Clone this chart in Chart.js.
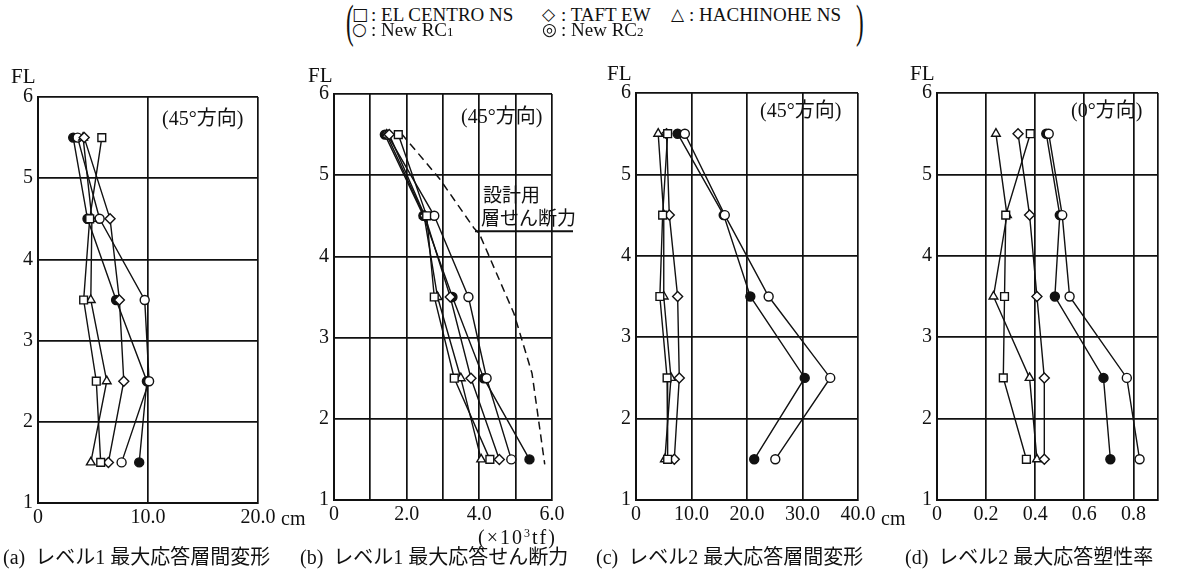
<!DOCTYPE html>
<html>
<head>
<meta charset="utf-8">
<script src="https://cdn.jsdelivr.net/npm/chart.js@4.4.0/dist/chart.umd.min.js"></script>
<style>
  html, body { margin: 0; padding: 0; background: #fff; }
  #stage { position: relative; width: 1194px; height: 573px; overflow: hidden; background: #fff; }
  canvas { position: absolute; }
  .t { position: absolute; white-space: nowrap; color: #111; line-height: 1;
       font-family: "Liberation Serif", "Noto Sans CJK JP", serif; transform: translateY(-50%); }
  .cap { font-size: 20px; }
  .unit { font-size: 20px; }
  .fl { font-size: 21px; }
  .dir { font-size: 20px; }
  .note { font-size: 19px; }
  .leg { font-size: 19px; }
  .sym { font-family: "DejaVu Sans", sans-serif; font-size: 17px; }
  .paren { font-size: 46px; transform: translateY(-50%) scaleX(0.5); transform-origin: left center; }
</style>
</head>
<body>
<div id="stage">
  <canvas id="pa"></canvas>
  <canvas id="pb"></canvas>
  <canvas id="pc"></canvas>
  <canvas id="pd"></canvas>

  <!-- legend -->
  <div class="t paren" style="left:346px; top:22px;">(</div>
  <div class="t sym" style="left:352px; top:14px;">□</div>
  <div class="t leg" style="left:371px; top:14px;">: EL CENTRO NS</div>
  <div class="t sym" style="left:542px; top:14px;">◇</div>
  <div class="t leg" style="left:561px; top:14px;">: TAFT EW</div>
  <div class="t sym" style="left:671px; top:14px;">△</div>
  <div class="t leg" style="left:689px; top:14px;">: HACHINOHE NS</div>
  <div class="t sym" style="left:352px; top:29px;">○</div>
  <div class="t leg" style="left:371px; top:29px;">: New RC<span style="font-size:13px">1</span></div>
  <div class="t sym" style="left:542px; top:29px;">◎</div>
  <div class="t leg" style="left:561px; top:29px;">: New RC<span style="font-size:13px">2</span></div>
  <div class="t paren" style="left:856px; top:22px;">)</div>

  <!-- axis titles -->
  <div class="t fl" style="left:11px; top:76px;">FL</div>
  <div class="t fl" style="left:308px; top:75px;">FL</div>
  <div class="t fl" style="left:607px; top:73px;">FL</div>
  <div class="t fl" style="left:910px; top:73px;">FL</div>

  <!-- direction notes -->
  <div class="t dir" style="left:162px; top:118px;">(45°方向)</div>
  <div class="t dir" style="left:461px; top:116px;">(45°方向)</div>
  <div class="t dir" style="left:760px; top:110px;">(45°方向)</div>
  <div class="t dir" style="left:1071px; top:110px;">(0°方向)</div>

  <!-- units -->
  <div class="t unit" style="left:281px; top:518px;">cm</div>
  <div class="t unit" style="left:881px; top:518px;">cm</div>
  <div class="t unit" style="left:478px; top:537px; letter-spacing:2px;">(×10<sup style="font-size:12px">3</sup>tf)</div>

  <!-- design shear note -->
  <div class="t note" style="left:483px; top:195px;">設計用</div>
  <div class="t note" style="left:481px; top:218px;">層せん断力</div>

  <!-- captions -->
  <div class="t cap" style="left:3px; top:557px;">(a)&nbsp; レベル1 最大応答層間変形</div>
  <div class="t cap" style="left:300px; top:557px;">(b)&nbsp; レベル1 最大応答せん断力</div>
  <div class="t cap" style="left:596px; top:557px;">(c)&nbsp; レベル2 最大応答層間変形</div>
  <div class="t cap" style="left:905px; top:557px;">(d)&nbsp; レベル2 最大応答塑性率</div>
</div>

<script>
// Floor levels where responses are plotted
const floors = [5.5, 4.5, 3.5, 2.5, 1.5];
const floorTicks = [1, 2, 3, 4, 5, 6];

// (a) Level 1 max story drift [cm]
const l1DriftElCentro  = [5.8, 4.7, 4.15, 5.3, 5.7];
const l1DriftTaft      = [4.2, 6.55, 7.4, 7.8, 6.4];
const l1DriftHachinohe = [4.1, 4.9, 4.8, 6.25, 4.8];
const l1DriftRc1       = [3.6, 5.6, 9.7, 10.1, 7.6];
const l1DriftRc2       = [3.2, 4.5, 7.1, 9.9, 9.2];

// (b) Level 1 max story shear [x10^3 tf]
const l1ShearElCentro  = [1.77, 2.55, 2.76, 3.31, 4.29];
const l1ShearTaft      = [1.52, 2.5, 3.2, 3.77, 4.55];
const l1ShearHachinohe = [1.45, 2.48, 2.85, 3.49, 4.05];
const l1ShearRc1       = [1.47, 2.76, 3.7, 4.2, 4.88];
const l1ShearRc2       = [1.4, 2.46, 3.26, 4.12, 5.38];
// design story shear (dashed)
const designShearFloor = [5.51, 4.96, 4.35, 4.28, 3.30, 2.56, 1.44];
const designShearValue = [1.86, 2.9, 3.85, 4.0, 4.95, 5.45, 5.8];

// (c) Level 2 max story drift [cm]
const l2DriftElCentro  = [5.7, 4.8, 4.3, 5.6, 5.7];
const l2DriftTaft      = [5.5, 6.0, 7.5, 7.8, 6.9];
const l2DriftHachinohe = [4.0, 5.0, 5.0, 6.3, 5.2];
const l2DriftRc1       = [8.8, 16.0, 23.9, 35.0, 25.1];
const l2DriftRc2       = [7.5, 15.8, 20.6, 30.4, 21.3];

// (d) Level 2 max ductility factor
const l2DuctElCentro  = [0.38, 0.28, 0.275, 0.27, 0.364];
const l2DuctTaft      = [0.33, 0.377, 0.407, 0.437, 0.437];
const l2DuctHachinohe = [0.24, 0.285, 0.23, 0.377, 0.407];
const l2DuctRc1       = [0.455, 0.51, 0.54, 0.773, 0.825];
const l2DuctRc2       = [0.445, 0.50, 0.48, 0.678, 0.706];

// x-axis ticks and their labels
const xTicksA = [0, 10, 20];           const xLabelsA = ['0', '10.0', '20.0'];
const xTicksB = [0, 1, 2, 3, 4, 5, 6]; const xLabelsB = ['0', '', '2.0', '', '4.0', '', '6.0'];
const xTicksC = [0, 10, 20, 30, 40];   const xLabelsC = ['0', '10.0', '20.0', '30.0', '40.0'];
const xTicksD = [0, 0.2, 0.4, 0.6, 0.8, 0.9]; const xLabelsD = ['0', '0.2', '0.4', '0.6', '0.8', ''];

const INK = '#111';
const markerStyles = [
  { pointStyle: 'rect',     pointRadius: 5.5, pointBackgroundColor: '#fff' },
  { pointStyle: 'rectRot',  pointRadius: 5,   pointBackgroundColor: '#fff' },
  { pointStyle: 'triangle', pointRadius: 5,   pointBackgroundColor: '#fff' },
  { pointStyle: 'circle',   pointRadius: 4.5, pointBackgroundColor: '#fff' },
  { pointStyle: 'circle',   pointRadius: 4.5, pointBackgroundColor: INK }
];
const seriesNames = ['EL CENTRO NS', 'TAFT EW', 'HACHINOHE NS', 'New RC1', 'New RC2'];

function toPoints(xs, ys) { return xs.map((v, i) => ({ x: v, y: ys[i] })); }

function responseSets(list) {
  return list.map((vals, k) => Object.assign({
    label: seriesNames[k],
    data: toPoints(vals, floors),
    borderColor: INK,
    borderWidth: 1.4,
    pointBorderColor: INK,
    pointBorderWidth: 1.4,
    showLine: true,
    tension: 0
  }, markerStyles[k]));
}

const PAD = 40;
const tickFont = { family: '"Liberation Serif", serif', size: 20 };

function makePanel(id, box, xMax, xTicks, xLabels, datasets, plugins) {
  const cv = document.getElementById(id);
  const w = (box.R - box.L) + PAD + 60;
  const h = (box.B - box.T) + PAD + 45;
  cv.width = w; cv.height = h;
  cv.style.left = (box.L - PAD) + 'px';
  cv.style.top = (box.T - PAD) + 'px';
  cv.style.width = w + 'px'; cv.style.height = h + 'px';
  return new Chart(cv, {
    type: 'scatter',
    data: { datasets },
    plugins: plugins || [],
    options: {
      responsive: false,
      animation: false,
      devicePixelRatio: 1,
      layout: { padding: { left: 0, top: PAD, right: 60, bottom: 0 } },
      plugins: { legend: { display: false }, tooltip: { enabled: false } },
      scales: {
        x: {
          type: 'linear', min: 0, max: xMax,
          afterBuildTicks: (s) => { s.ticks = xTicks.map(v => ({ value: v })); },
          afterFit: (s) => { s.height = 45; },
          ticks: {
            autoSkip: false, maxRotation: 0, padding: 3, color: INK, font: tickFont,
            callback: (v, i) => xLabels[i]
          },
          grid: { color: INK, lineWidth: 1.7, drawTicks: false },
          border: { color: INK, width: 2 }
        },
        y: {
          type: 'linear', min: 1, max: 6,
          afterBuildTicks: (s) => { s.ticks = floorTicks.map(v => ({ value: v })); },
          afterFit: (s) => { s.width = PAD; },
          ticks: { padding: 5, color: INK, font: tickFont, callback: (v) => String(v) },
          grid: { color: INK, lineWidth: 1.7, drawTicks: false },
          border: { color: INK, width: 2 }
        }
      }
    }
  });
}

// leader line from the design-shear curve to its note
const leaderLine = {
  id: 'leaderLine',
  afterDatasetsDraw(chart) {
    const { ctx, scales } = chart;
    const y = scales.y.getPixelForValue(4.31);
    const x0 = scales.x.getPixelForValue(3.88);
    const x1 = chart.chartArea.right + 21;
    ctx.save();
    ctx.strokeStyle = INK; ctx.lineWidth = 2;
    ctx.beginPath(); ctx.moveTo(x0, y); ctx.lineTo(x1, y); ctx.stroke();
    ctx.restore();
  }
};

makePanel('pa', { L: 38, T: 97, R: 258, B: 503 }, 20, xTicksA, xLabelsA,
  responseSets([l1DriftElCentro, l1DriftTaft, l1DriftHachinohe, l1DriftRc1, l1DriftRc2]));

const shearSets = responseSets([l1ShearElCentro, l1ShearTaft, l1ShearHachinohe, l1ShearRc1, l1ShearRc2]);
shearSets.push({
  label: '設計用層せん断力',
  data: toPoints(designShearValue, designShearFloor),
  borderColor: INK, borderWidth: 1.5, borderDash: [8, 5],
  pointRadius: 0, showLine: true, tension: 0
});
makePanel('pb', { L: 334, T: 94, R: 552, B: 500 }, 6, xTicksB, xLabelsB, shearSets, [leaderLine]);

makePanel('pc', { L: 636, T: 93, R: 858, B: 500 }, 40, xTicksC, xLabelsC,
  responseSets([l2DriftElCentro, l2DriftTaft, l2DriftHachinohe, l2DriftRc1, l2DriftRc2]));

makePanel('pd', { L: 937, T: 93, R: 1158, B: 500 }, 0.9, xTicksD, xLabelsD,
  responseSets([l2DuctElCentro, l2DuctTaft, l2DuctHachinohe, l2DuctRc1, l2DuctRc2]));
</script>
</body>
</html>
